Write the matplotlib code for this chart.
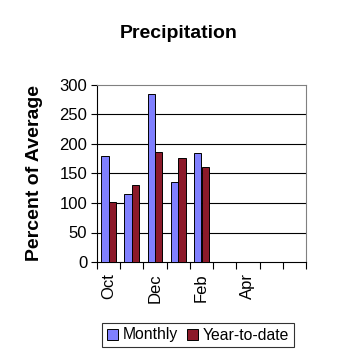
import matplotlib
matplotlib.use("Agg")
import matplotlib.pyplot as plt
import numpy as np

plt.rcParams['font.family'] = ['Liberation Sans', 'DejaVu Sans']

months = ["Oct", "Nov", "Dec", "Jan", "Feb", "Mar", "Apr", "May", "Jun"]
monthly = [180, 115, 285, 136, 185]
ytd = [102, 131, 187, 177, 161]
yticks = [0, 50, 100, 150, 200, 250, 300]
xlabel_idx = [0, 2, 4, 6]

fig = plt.figure(figsize=(3.58, 3.58), dpi=100)
ax = fig.add_axes([97/358, 1 - 262/358, (306-97)/358, (262-85)/358])

w = 0.32
x = np.arange(len(monthly))
ax.bar(x - w/2, monthly, width=w, color='#8080ff', edgecolor='black', linewidth=0.7,
       label='Monthly', zorder=3)
ax.bar(x + w/2, ytd, width=w, color='#8c1a2a', edgecolor='black', linewidth=0.7,
       label='Year-to-date', zorder=3)

ax.set_xlim(-0.5, len(months) - 0.5)
ax.set_ylim(0, 300)
ax.set_yticks(yticks)
ax.set_yticklabels([str(v) for v in yticks], fontsize=12)
for v in yticks[1:-1]:
    ax.axhline(v, color='black', linewidth=0.8, zorder=1)

ax.set_xticks(xlabel_idx)
ax.set_xticklabels([months[i] for i in xlabel_idx], rotation=90, fontsize=12)
ax.tick_params(axis='x', which='major', length=0, pad=8)
ax.set_xticks(np.arange(len(months) + 1) - 0.5, minor=True)
ax.tick_params(axis='x', which='minor', length=5, width=0.8, direction='out')
ax.tick_params(axis='y', length=4, width=0.8, direction='out', pad=3)

ax.spines['left'].set_color('black')
ax.spines['bottom'].set_color('black')
ax.spines['top'].set_color('#808080')
ax.spines['right'].set_color('#808080')
for s in ax.spines.values():
    s.set_linewidth(0.8)

ax.set_ylabel('Percent of Average', fontsize=14, fontweight='bold')
ax.yaxis.set_label_coords((43 - 97) / 209, 0.5)
fig.text(179/358, 1 - 34/358, 'Precipitation', fontsize=14, fontweight='bold',
         ha='center', va='center')

leg = fig.legend(loc='center', bbox_to_anchor=(198/358, 1 - 335/358), ncol=2,
                 fontsize=11.3, frameon=True, fancybox=False, edgecolor='black',
                 handlelength=0.7, handleheight=0.7, handletextpad=0.3,
                 columnspacing=0.6, borderpad=0.3, borderaxespad=0)
leg.get_frame().set_linewidth(0.8)

fig.savefig('out.png', dpi=100)
